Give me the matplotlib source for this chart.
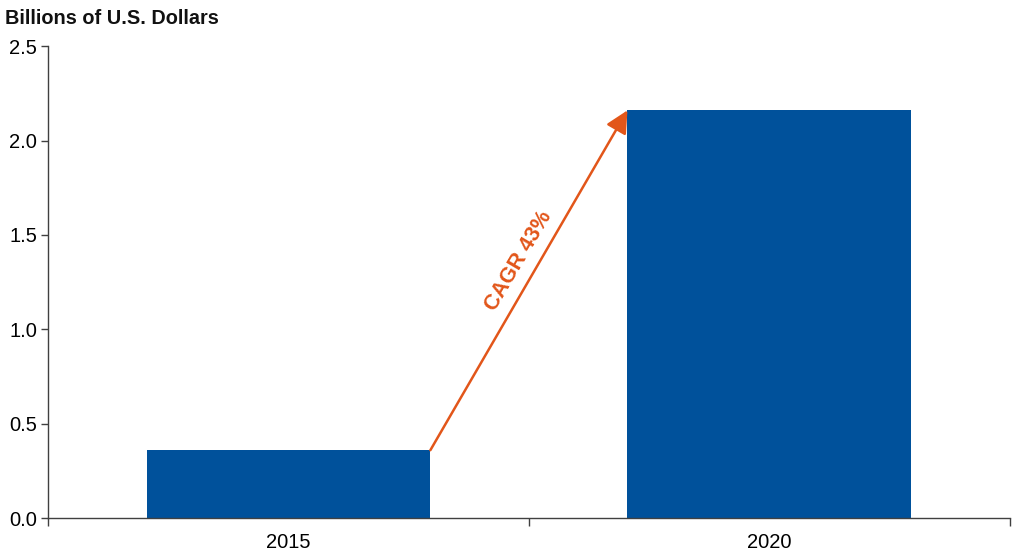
"""Bar chart: market size 2015 vs 2020 with CAGR arrow
"""
import matplotlib.pyplot as plt

plt.rcParams['font.family'] = ['Liberation Sans', 'DejaVu Sans']

# data
years = ['2015', '2020']
values = [0.36, 2.16]
cagr_label = 'CAGR 43%'

bar_color = '#00519B'
arrow_color = '#E2561A'
axis_color = '#404040'
bar_width = 0.59

fig = plt.figure(figsize=(10.24, 5.56), dpi=100)
ax = fig.add_axes([0.047, 0.068, 0.939, 0.849])

xpos = list(range(len(years)))
ax.bar(xpos, values, width=bar_width, color=bar_color, zorder=2)

ax.set_xlim(-0.5, len(years) - 0.5)
ax.set_ylim(0, 2.5)
ax.set_yticks([0.0, 0.5, 1.0, 1.5, 2.0, 2.5])
ax.set_yticklabels([f'{v:.1f}' for v in [0.0, 0.5, 1.0, 1.5, 2.0, 2.5]])
ax.set_xticks(xpos)
ax.set_xticklabels(years)
ax.set_xticks([-0.5, 0.5, 1.5], minor=True)
ax.tick_params(axis='x', which='major', length=0, pad=11, labelsize=14.5)
ax.tick_params(axis='x', which='minor', length=6, direction='out',
               color=axis_color, width=1)
ax.tick_params(axis='y', length=5, direction='out', color=axis_color,
               width=1, labelsize=14.5, pad=3)

for side in ['top', 'right']:
    ax.spines[side].set_visible(False)
for side in ['left', 'bottom']:
    ax.spines[side].set_color(axis_color)
    ax.spines[side].set_linewidth(1)

# arrow from top-right of first bar to top-left of second bar
x0 = xpos[0] + bar_width / 2
x1 = xpos[1] - bar_width / 2
ax.annotate('', xy=(x1, values[1]), xytext=(x0, values[0]),
            arrowprops=dict(arrowstyle='-|>', color=arrow_color, lw=1.8,
                            mutation_scale=34, shrinkA=0, shrinkB=0),
            zorder=3)
ax.text(0.478, 1.36, cagr_label, color=arrow_color, fontsize=15.5,
        fontweight='bold', rotation=59.5, ha='center', va='center')

fig.text(0.005, 0.967, 'Billions of U.S. Dollars', fontsize=14.3,
         fontweight='bold', ha='left', va='center', color='#111111')

plt.savefig('out.png', dpi=100)
